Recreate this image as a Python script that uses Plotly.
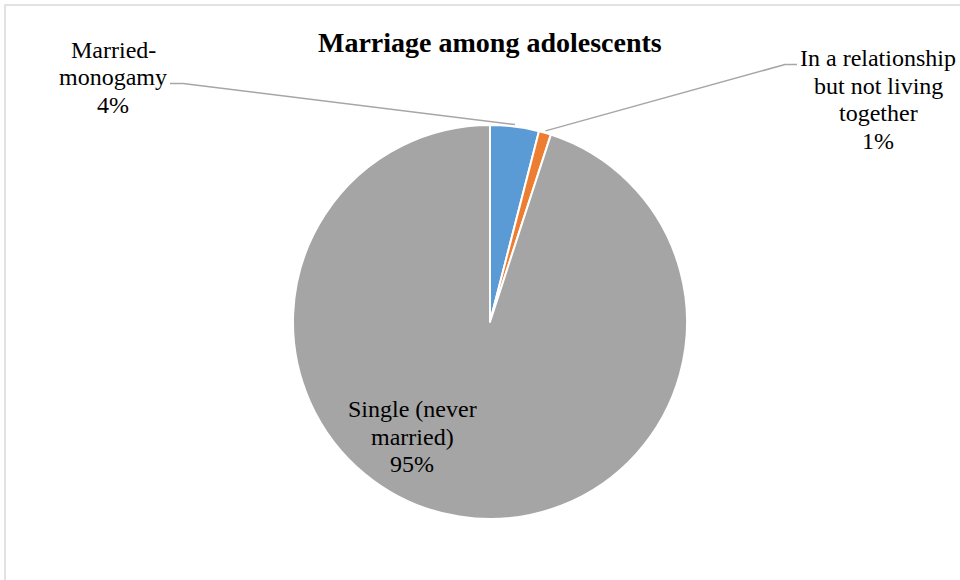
import math
import plotly.graph_objects as go

# Marital status of adolescents (share of respondents, %)
categories = ["Married-monogamy", "In a relationship but not living together", "Single (never married)"]
label_lines = [["Married-", "monogamy"], ["In a relationship", "but not living", "together"], ["Single (never", "married)"]]
shares = [4, 1, 95]
colors = ["#5B9BD5", "#ED7D31", "#A5A5A5"]

W, H = 960, 580
CX, CY, R = 490, 322, 197  # pie centre and radius in pixels

FONT = "Liberation Serif, Times New Roman, serif"
LABEL_SIZE = 24
LINE_STEP = 27.5  # vertical distance between label lines, px


def px(x, y):
    """Pixel position -> paper coordinates."""
    return x / W, 1 - y / H


def rim_point(idx, extra=0):
    """Point on the rim at the middle angle of slice idx (clockwise from 12 o'clock)."""
    total = sum(shares)
    start = sum(shares[:idx]) / total
    mid = (start + shares[idx] / total / 2) * 2 * math.pi
    return CX + (R + extra) * math.sin(mid), CY - (R + extra) * math.cos(mid)


fig = go.Figure(
    go.Pie(
        labels=categories,
        values=shares,
        sort=False,
        direction="clockwise",
        rotation=0,
        marker=dict(colors=colors, line=dict(color="white", width=2)),
        textinfo="none",
        hoverinfo="label+percent",
        showlegend=False,
        domain=dict(
            x=[(CX - R) / W, (CX + R) / W],
            y=[1 - (CY + R) / H, 1 - (CY - R) / H],
        ),
    )
)


def label_rows(i):
    total = sum(shares)
    return label_lines[i] + [f"{round(100 * shares[i] / total)}%"]


annotations = []
shapes = []

# Title
tx, ty = px(490, 42)
annotations.append(dict(
    x=tx, y=ty, xref="paper", yref="paper", showarrow=False,
    text="<b>Marriage among adolescents</b>",
    font=dict(family=FONT, size=28, color="#000000"),
    xanchor="center", yanchor="middle",
))


def add_label(i, cx, first_y):
    """Stack the label rows for slice i, centred on cx, first row at first_y (px)."""
    for k, row in enumerate(label_rows(i)):
        ax, ay = px(cx, first_y + k * LINE_STEP)
        annotations.append(dict(
            x=ax, y=ay, xref="paper", yref="paper", showarrow=False,
            text=row, align="center",
            font=dict(family=FONT, size=LABEL_SIZE, color="#000000"),
            xanchor="center", yanchor="middle",
        ))


# Outside labels with leader lines
add_label(0, 113, 50)
add_label(1, 878, 58)
leader = {0: ((170, 83.5), (183, 83.5)), 1: ((797, 64.5), (785, 64.5))}
for i, ((sx, sy), (ex, ey)) in leader.items():
    rx, ry = rim_point(i, extra=2)
    p0, p1, p2 = px(sx, sy), px(ex, ey), px(rx, ry)
    shapes.append(dict(
        type="path", xref="paper", yref="paper",
        path=f"M {p0[0]},{p0[1]} L {p1[0]},{p1[1]} L {p2[0]},{p2[1]}",
        line=dict(color="#A6A6A6", width=1.5),
    ))

# Inside label for the large slice
add_label(2, 412, 409)

# Chart area frame
f0, f1 = px(5, 5), px(W + 5, H + 5)
shapes.append(dict(
    type="rect", xref="paper", yref="paper",
    x0=f0[0], y0=f1[1], x1=f1[0], y1=f0[1],
    line=dict(color="#D9D9D9", width=1.5), fillcolor="rgba(0,0,0,0)", layer="below",
))

fig.update_layout(
    width=W, height=H,
    margin=dict(l=0, r=0, t=0, b=0),
    paper_bgcolor="white",
    plot_bgcolor="white",
    annotations=annotations,
    shapes=shapes,
)

fig.write_html("out.html")
